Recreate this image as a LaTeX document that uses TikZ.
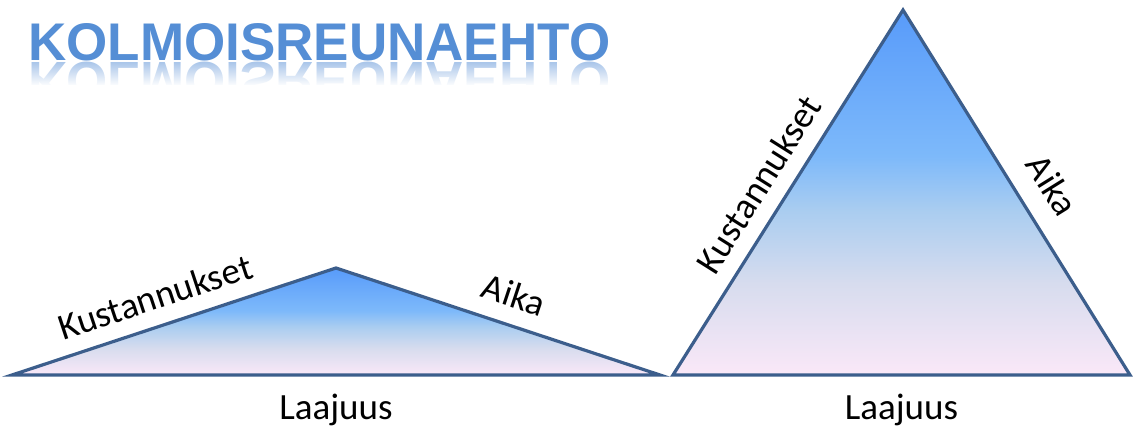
\documentclass[tikz,border=0pt]{standalone}
\usepackage{fontspec}
\setmainfont{Carlito}
\newfontfamily\titlefont{Liberation Sans}
\usetikzlibrary{fadings}
\definecolor{titleblue}{RGB}{85,142,213}
\definecolor{edgeblue}{RGB}{60,94,140}
\definecolor{topblue}{RGB}{88,155,250}
\definecolor{midblue}{RGB}{125,185,250}
\definecolor{paleblue}{RGB}{170,205,240}
\definecolor{greyblue}{RGB}{215,220,238}
\definecolor{lowpink}{RGB}{250,232,248}
\pgfdeclareverticalshading{kolmiovarit}{100bp}{color(0bp)=(lowpink); color(25bp)=(lowpink);
    color(37.5bp)=(greyblue); color(47.5bp)=(paleblue); color(55bp)=(midblue);
    color(75bp)=(topblue); color(100bp)=(topblue)}
\tikzset{
    kolmio/.style={draw=edgeblue, line width=3.2pt, line join=miter, shading=kolmiovarit},
    sivu/.style={font=\fontsize{37}{40}\selectfont, sloped, above=#1},
    sivu/.default=12pt,
    pohja/.style={font=\fontsize{37}{40}\selectfont, below=16pt}
}

\begin{document}
\begin{tikzpicture}[x=1pt, y=-1pt]
    \useasboundingbox (0,0) rectangle (1134,427);
    % otsikko ja heijastus
    \node[anchor=base west, inner sep=0, text=titleblue,
        font=\titlefont\bfseries\fontsize{53}{60}\selectfont] (otsikko) at (28,61) {KOLMOISREUNAEHTO};
    \node[anchor=base west, inner sep=0, yscale=-1, text=titleblue!50,
        font=\titlefont\bfseries\fontsize{53}{60}\selectfont] (heijastus) at (28,63) {KOLMOISREUNAEHTO};
    \fill[white, path fading=north] (20,62) rectangle (620,86);
    \fill[white] (20,85) rectangle (620,110);

    % matala kolmio
    \coordinate (a1) at (12,375);
    \coordinate (a2) at (336,268);
    \coordinate (a3) at (660,375);
    \draw[kolmio] (a1) -- (a2) -- (a3) -- cycle;
    \path (a1) -- node[sivu=13pt, pos=0.47] (a12) {Kustannukset} (a2);
    \path (a2) -- node[sivu=14pt, pos=0.52] (a23) {Aika} (a3);
    \path (a1) -- node[pohja] (a13) {Laajuus} (a3);

    % korkea kolmio
    \coordinate (b1) at (673,375);
    \coordinate (b2) at (903,10);
    \coordinate (b3) at (1130,375);
    \draw[kolmio] (b1) -- (b2) -- (b3) -- cycle;
    \path (b1) -- node[sivu=13pt, pos=0.48] (b12) {Kustannukset} (b2);
    \path (b2) -- node[sivu=18pt, pos=0.53] (b23) {Aika} (b3);
    \path (b1) -- node[pohja] (b13) {Laajuus} (b3);
\end{tikzpicture}
\end{document}
